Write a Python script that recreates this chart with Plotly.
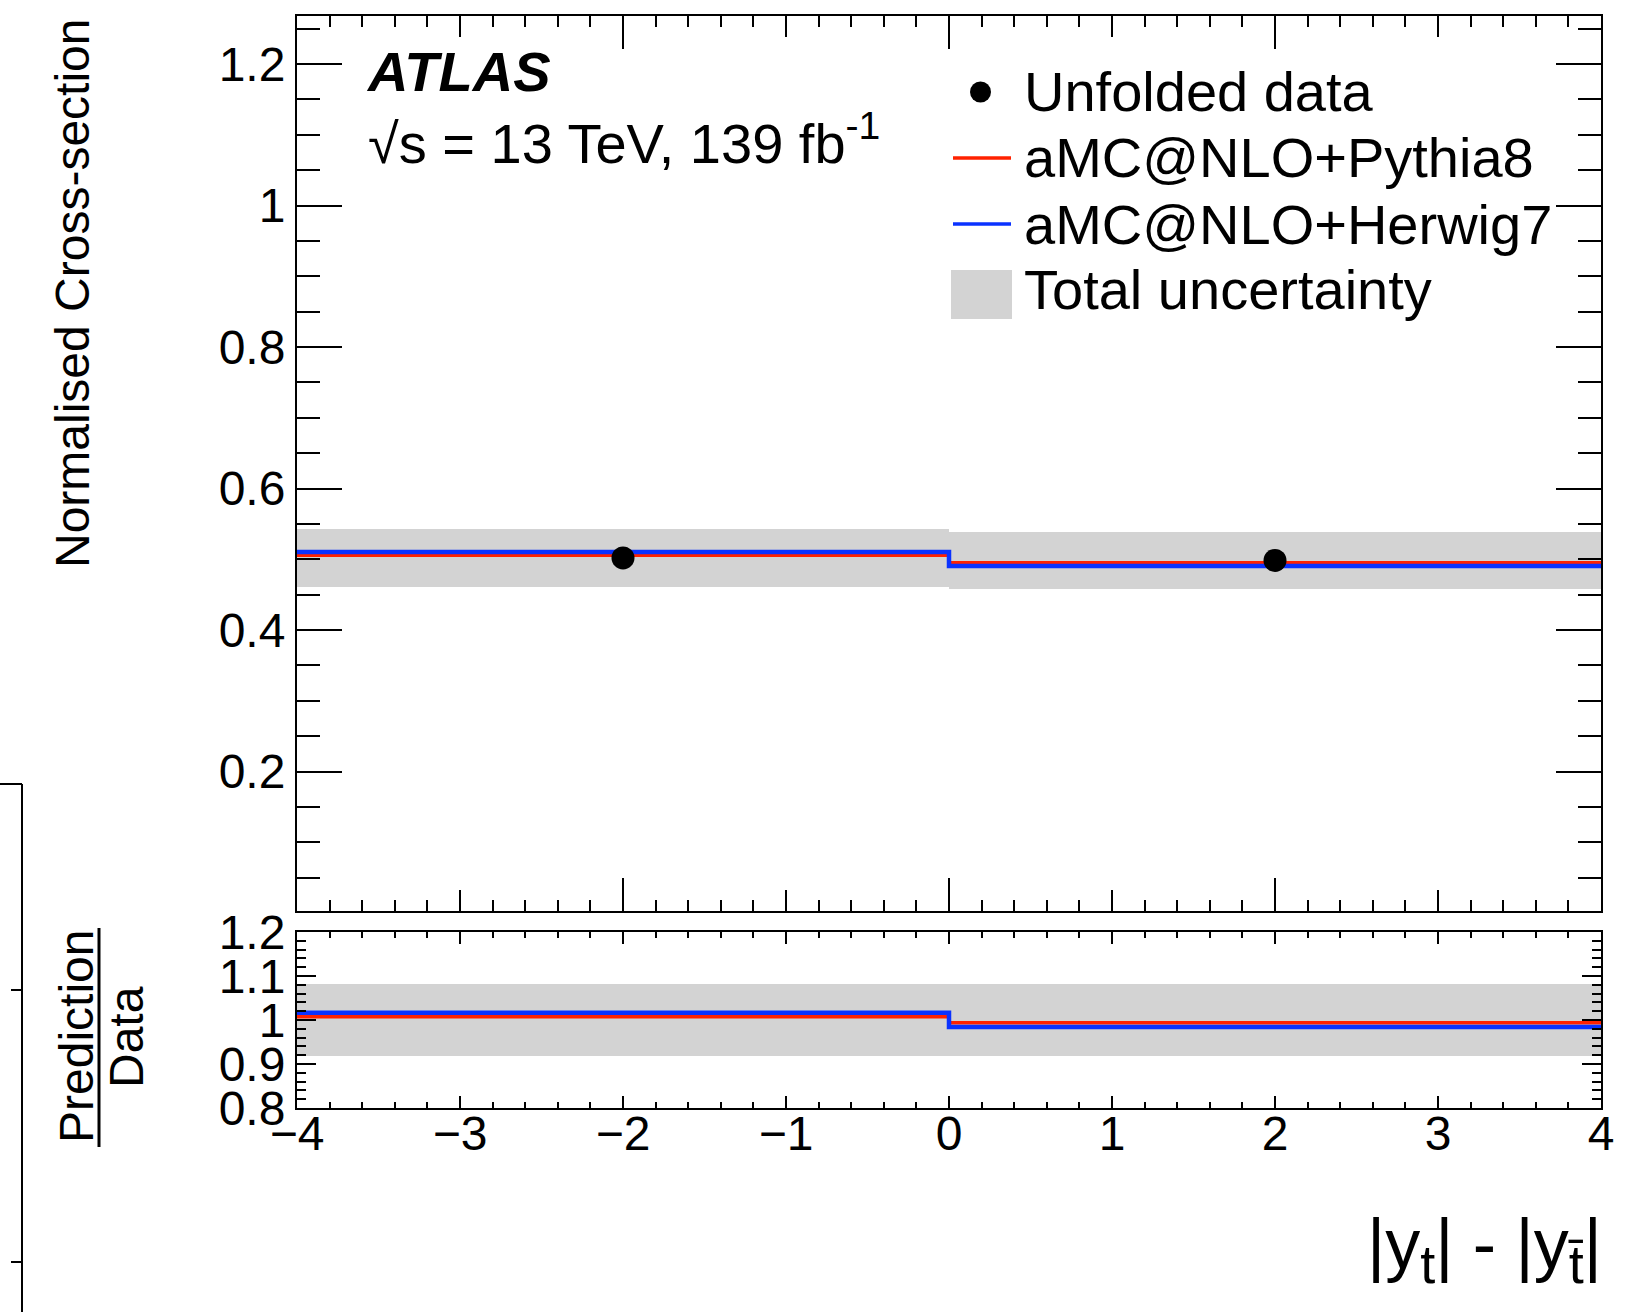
import plotly.graph_objects as go

# ---------------- data ----------------
bin_edges = [-4.0, 0.0, 4.0]
bin_centers = [-2.0, 2.0]
bin_widths = [4.0, 4.0]
data_vals = [0.502, 0.4985]
total_unc = [0.0406, 0.0404]
pythia_vals = [0.5057, 0.4953]
herwig_vals = [0.5104, 0.4906]

top_yticks = [0.2, 0.4, 0.6, 0.8, 1.0, 1.2]
top_yticktext = ["0.2", "0.4", "0.6", "0.8", "1", "1.2"]
ratio_yticks = [0.8, 0.9, 1.0, 1.1, 1.2]
ratio_yticktext = ["0.8", "0.9", "1", "1.1", "1.2"]
x_ticks = [-4, -3, -2, -1, 0, 1, 2, 3, 4]
x_ticktext = ["\u22124", "\u22123", "\u22122", "\u22121", "0", "1", "2", "3", "4"]
x_major_even = [-4, -2, 0, 2, 4]

legend_labels = ["Unfolded data", "aMC@NLO+Pythia8", "aMC@NLO+Herwig7", "Total uncertainty"]

RED = "#ff2200"
BLUE = "#0a32ff"
GRAY = "#d3d3d3"
FONT = "Liberation Sans, Arial, Helvetica, sans-serif"

# ratios / derived quantities
ratio_py = [p / d for p, d in zip(pythia_vals, data_vals)]
ratio_hw = [h / d for h, d in zip(herwig_vals, data_vals)]
rel_unc = [u / d for u, d in zip(total_unc, data_vals)]


def step_y(vals):
    return list(vals) + [vals[-1]]


# ---------------- geometry (pixels) ----------------
W, H = 1639, 1312
L, R, T, B = 297, 1601, 16, 1108


def px(x):
    return (x - L) / (R - L)


def py(y):
    return (B - y) / (B - T)


top_dom = [py(911), 1.0]
bot_dom = [0.0, py(932)]

fig = go.Figure()

# ---- top panel ----
fig.add_trace(go.Bar(x=bin_centers, y=[2 * u for u in total_unc],
                     base=[d - u for d, u in zip(data_vals, total_unc)],
                     width=bin_widths, marker=dict(color=GRAY, line=dict(width=0)),
                     xaxis="x", yaxis="y", showlegend=False, hoverinfo="skip"))
fig.add_trace(go.Scatter(x=bin_edges, y=step_y(pythia_vals), mode="lines",
                         line=dict(color=RED, width=3.5, shape="hv"),
                         xaxis="x", yaxis="y", showlegend=False))
fig.add_trace(go.Scatter(x=bin_edges, y=step_y(herwig_vals), mode="lines",
                         line=dict(color=BLUE, width=4.5, shape="hv"),
                         xaxis="x", yaxis="y", showlegend=False))
fig.add_trace(go.Scatter(x=bin_centers, y=data_vals, mode="markers",
                         marker=dict(color="black", size=23),
                         xaxis="x", yaxis="y", showlegend=False))

# ---- ratio panel ----
fig.add_trace(go.Bar(x=bin_centers, y=[2 * r for r in rel_unc],
                     base=[1 - r for r in rel_unc],
                     width=bin_widths, marker=dict(color=GRAY, line=dict(width=0)),
                     xaxis="x2", yaxis="y2", showlegend=False, hoverinfo="skip"))
fig.add_trace(go.Scatter(x=bin_edges, y=step_y(ratio_py), mode="lines",
                         line=dict(color=RED, width=3.5, shape="hv"),
                         xaxis="x2", yaxis="y2", showlegend=False))
fig.add_trace(go.Scatter(x=bin_edges, y=step_y(ratio_hw), mode="lines",
                         line=dict(color=BLUE, width=4.5, shape="hv"),
                         xaxis="x2", yaxis="y2", showlegend=False))

axis_common = dict(showline=True, linecolor="black", linewidth=2, mirror="ticks",
                   ticks="inside", tickcolor="black", tickwidth=2,
                   showgrid=False, zeroline=False, automargin=False,
                   tickfont=dict(family=FONT, size=48, color="black"))

fig.update_layout(
    width=W, height=H,
    margin=dict(l=L, r=W - R, t=T, b=H - B, pad=0, autoexpand=False),
    paper_bgcolor="white", plot_bgcolor="white",
    showlegend=False, barmode="overlay", bargap=0,
    font=dict(family=FONT, color="black"),
    xaxis=dict(axis_common, domain=[0, 1], anchor="y", range=[-4, 4],
               tickmode="array", tickvals=x_ticks, ticklen=21, showticklabels=False,
               minor=dict(tick0=-4, dtick=0.2, ticklen=11, tickwidth=2,
                          tickcolor="black", ticks="inside", showgrid=False)),
    xaxis3=dict(overlaying="x", anchor="y", range=[-4, 4], showline=False,
                mirror="ticks", ticks="inside", tickcolor="black", tickwidth=2,
                tickmode="array", tickvals=x_major_even, ticklen=33, automargin=False,
                showticklabels=False, showgrid=False, zeroline=False),
    yaxis=dict(axis_common, domain=top_dom, anchor="x", range=[0.003, 1.268],
               tickmode="array", tickvals=top_yticks, ticktext=top_yticktext, ticklen=45,
               minor=dict(tick0=0, dtick=0.05, ticklen=23, tickwidth=2,
                          tickcolor="black", ticks="inside", showgrid=False)),
    xaxis2=dict(axis_common, domain=[0, 1], anchor="y2", range=[-4, 4],
                tickmode="array", tickvals=x_ticks, ticktext=x_ticktext, ticklen=12,
                ticklabelstandoff=-18,
                minor=dict(tick0=-4, dtick=0.2, ticklen=6, tickwidth=2,
                           tickcolor="black", ticks="inside", showgrid=False)),
    yaxis2=dict(axis_common, domain=bot_dom, anchor="x2", range=[0.8, 1.2],
                tickmode="array", tickvals=ratio_yticks, ticktext=ratio_yticktext, ticklen=19,
                minor=dict(tick0=0.8, dtick=0.02, ticklen=9, tickwidth=2,
                           tickcolor="black", ticks="inside", showgrid=False)),
)

# a dummy trace so xaxis3 is rendered
fig.add_trace(go.Scatter(x=[None], y=[None], xaxis="x3", yaxis="y", showlegend=False))

ann = []
shapes = []


def text(x, y, s, size, xanchor="left", yanchor="middle", angle=0):
    ann.append(dict(x=px(x), y=py(y), xref="paper", yref="paper", text=s,
                    showarrow=False, xanchor=xanchor, yanchor=yanchor, textangle=angle,
                    font=dict(family=FONT, size=size, color="black")))


# ATLAS label
text(364, 71, "<b><i>ATLAS</i></b>", 56)
text(366, 139, "\u221as = 13 TeV, 139 fb<sup>-1</sup>", 56)

# legend (manual)
leg_y = [92, 158, 224, 289]
for lab, yy in zip(legend_labels, leg_y):
    text(1022, yy, lab, 56)
shapes.append(dict(type="circle", xref="paper", yref="paper",
                   x0=px(970), x1=px(991), y0=py(leg_y[0] - 10.5), y1=py(leg_y[0] + 10.5),
                   fillcolor="black", line=dict(width=0)))
shapes.append(dict(type="line", xref="paper", yref="paper",
                   x0=px(953), x1=px(1011), y0=py(leg_y[1]), y1=py(leg_y[1]),
                   line=dict(color=RED, width=3.5)))
shapes.append(dict(type="line", xref="paper", yref="paper",
                   x0=px(953), x1=px(1011), y0=py(leg_y[2]), y1=py(leg_y[2]),
                   line=dict(color=BLUE, width=3.5)))
shapes.append(dict(type="rect", xref="paper", yref="paper",
                   x0=px(951), x1=px(1012), y0=py(270), y1=py(319),
                   fillcolor=GRAY, line=dict(width=0)))

# axis titles
text(72, 16, "Normalised Cross-section", 48, xanchor="center", yanchor="top", angle=-90)
text(76, 1037, "Prediction", 48, xanchor="center", yanchor="middle", angle=-90)
text(126, 1037, "Data", 48, xanchor="center", yanchor="middle", angle=-90)
shapes.append(dict(type="line", xref="paper", yref="paper",
                   x0=px(99), x1=px(99), y0=py(928), y1=py(1147),
                   line=dict(color="black", width=3)))
text(1604, 1203,
     "|y<sub><span style='font-size:54px'>t</span></sub>| - "
     "|y<sub><span style='font-size:54px'>t\u0304</span></sub>|",
     70, xanchor="right", yanchor="top")

# stray frame edge on the far left
for (x0, y0, x1, y1) in [(22, 784, 22, 1312), (0, 784, 22, 784),
                         (11, 990, 22, 990), (11, 1262, 22, 1262)]:
    shapes.append(dict(type="line", xref="paper", yref="paper",
                       x0=px(x0), x1=px(x1), y0=py(y0), y1=py(y1),
                       line=dict(color="black", width=2)))

fig.update_layout(annotations=ann, shapes=shapes)
fig.write_html("out.html")
